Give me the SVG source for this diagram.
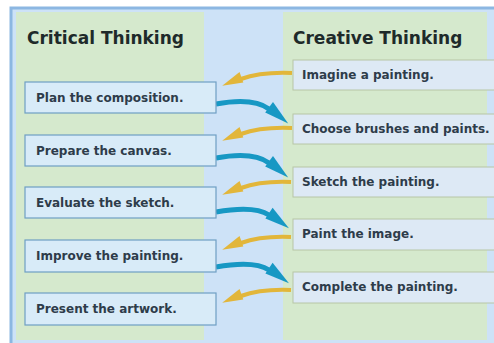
<svg xmlns="http://www.w3.org/2000/svg" width="494" height="343" viewBox="0 0 494 343">
  <style>
    .title { font-family: "DejaVu Sans", Verdana, sans-serif; font-size: 17px; font-weight: bold; fill: #1e2a2a; }
    .lbl { font-family: "DejaVu Sans", Verdana, sans-serif; font-size: 12px; font-weight: bold; fill: #2e3c4a; }
    .lbox { fill: #d8ebf8; stroke: #6f9fc4; stroke-width: 1.2; }
    .rbox { fill: #dde9f5; stroke: #b7c6a6; stroke-width: 1; }
    .gold { fill: none; stroke: #e2b63a; stroke-width: 4; stroke-linecap: butt; }
    .teal { fill: none; stroke: #1798c4; stroke-width: 5; stroke-linecap: butt; }
  </style>
  <defs>
    <!-- heads are drawn from their base (x=0) out to the tip -->
    <marker id="headGold" viewBox="0 -8 21 16" refX="0" refY="0" markerWidth="21" markerHeight="16" markerUnits="userSpaceOnUse" orient="auto" overflow="visible">
      <path d="M-1,7 L20,0 L-1,-4 Z" fill="#e2b63a"/>
    </marker>
    <marker id="headTeal" viewBox="0 -9 25 18" refX="0" refY="0" markerWidth="25" markerHeight="18" markerUnits="userSpaceOnUse" orient="auto" overflow="visible">
      <path d="M-1,-8 L24,0 L-1,5 Z" fill="#1798c4"/>
    </marker>
  </defs>

  <!-- frame and column panels -->
  <rect x="0" y="0" width="494" height="343" fill="#ffffff"/>
  <rect x="11" y="8" width="490" height="340" fill="#cde2f7" stroke="#8cb7e2" stroke-width="3"/>
  <rect x="16" y="12" width="188" height="328" fill="#d5e9cd"/>
  <rect x="283" y="12" width="204" height="328" fill="#d5e9cd"/>

  <text class="title" x="27" y="44">Critical Thinking</text>
  <text class="title" x="293" y="44">Creative Thinking</text>

  <g id="connectors">
    <path class="gold" d="M292,73 C268,72 252,75 241,79" marker-end="url(#headGold)"/>
    <path class="gold" d="M292,128 C268,127 252,130 241,134" marker-end="url(#headGold)"/>
    <path class="gold" d="M291,182 C267,181 252,184 241,188" marker-end="url(#headGold)"/>
    <path class="gold" d="M291,237 C267,236 252,239 241,243" marker-end="url(#headGold)"/>
    <path class="gold" d="M291,290 C267,289 252,292 241,296" marker-end="url(#headGold)"/>
    <path class="teal" d="M216,104 C238,100 257,100 269,109" marker-end="url(#headTeal)"/>
    <path class="teal" d="M216,158 C238,154 257,154 269,163" marker-end="url(#headTeal)"/>
    <path class="teal" d="M216,212 C238,208 257,207 269,215" marker-end="url(#headTeal)"/>
    <path class="teal" d="M216,267 C238,263 257,262 269,270" marker-end="url(#headTeal)"/>
  </g>

  <g id="plan"><rect class="lbox" x="25" y="82" width="191" height="31"/><text class="lbl" x="36" y="102">Plan the composition.</text></g>
  <g id="prepare"><rect class="lbox" x="25" y="135" width="191" height="31"/><text class="lbl" x="36" y="155">Prepare the canvas.</text></g>
  <g id="evaluate"><rect class="lbox" x="25" y="187" width="191" height="31"/><text class="lbl" x="36" y="207">Evaluate the sketch.</text></g>
  <g id="improve"><rect class="lbox" x="25" y="240" width="191" height="32"/><text class="lbl" x="36" y="260">Improve the painting.</text></g>
  <g id="present"><rect class="lbox" x="25" y="293" width="191" height="32"/><text class="lbl" x="36" y="313">Present the artwork.</text></g>

  <g id="imagine"><rect class="rbox" x="293" y="60" width="210" height="30"/><text class="lbl" x="302" y="79">Imagine a painting.</text></g>
  <g id="choose"><rect class="rbox" x="293" y="114" width="210" height="30"/><text class="lbl" x="302" y="133">Choose brushes and paints.</text></g>
  <g id="sketch"><rect class="rbox" x="293" y="167" width="210" height="30"/><text class="lbl" x="302" y="186">Sketch the painting.</text></g>
  <g id="paint"><rect class="rbox" x="293" y="219" width="210" height="31"/><text class="lbl" x="302" y="238">Paint the image.</text></g>
  <g id="complete"><rect class="rbox" x="293" y="272" width="210" height="31"/><text class="lbl" x="302" y="291">Complete the painting.</text></g>
</svg>
